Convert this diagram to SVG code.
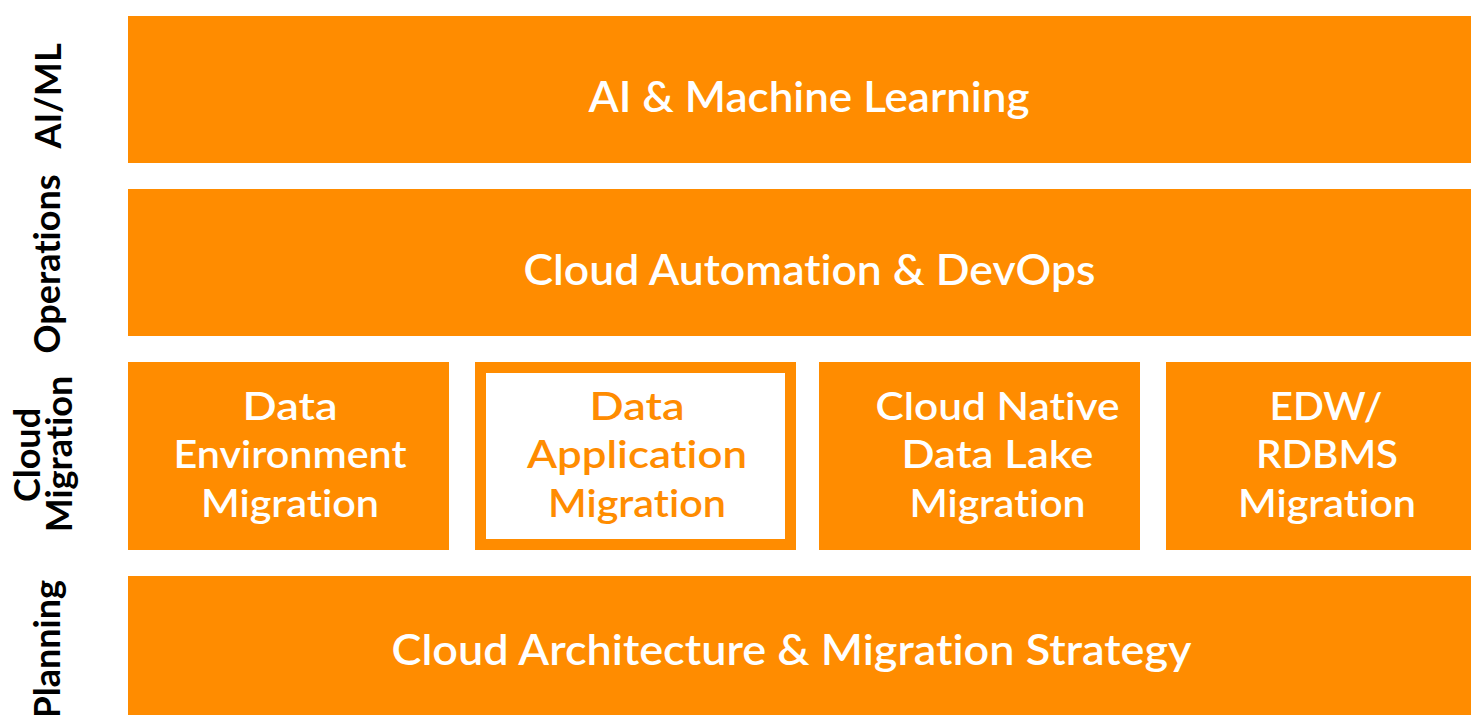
<svg xmlns="http://www.w3.org/2000/svg" width="1471" height="715" viewBox="0 0 1471 715">
<style>
.box{fill:#FF8C00}
.hl{fill:#FFFFFF;stroke:#FF8C00;stroke-width:11}
.t{font-family:Lato,"Noto Sans","Liberation Sans",sans-serif;font-weight:600;fill:#FFFFFF;text-anchor:middle;font-variant-ligatures:none}
.big{font-size:42px}
.mid{font-size:38px}
.o{fill:#FF8C00}
.lab{font-family:Lato,"Noto Sans","Liberation Sans",sans-serif;font-weight:700;font-size:36px;fill:#000000;text-anchor:middle;font-variant-ligatures:none}
</style>
<rect width="1471" height="715" fill="#FFFFFF"/>
<g id="labels">
<text class="lab" transform="translate(61,96) rotate(-90)">AI/ML</text>
<text class="lab" transform="translate(60,264) rotate(-90)">Operations</text>
<text class="lab" transform="translate(40,455) rotate(-90)">Cloud</text>
<text class="lab" transform="translate(72,454) rotate(-90)">Migration</text>
<text class="lab" style="text-anchor:end" transform="translate(60,580) rotate(-90)">Planning</text>
</g>
<g id="ai-ml">
<rect class="box" x="128" y="16" width="1343" height="147"/>
<text class="t big" x="809" y="112" textLength="441" lengthAdjust="spacingAndGlyphs">AI &amp; Machine Learning</text>
</g>
<g id="devops">
<rect class="box" x="128" y="189" width="1343" height="147"/>
<text class="t big" x="809.5" y="285" textLength="572" lengthAdjust="spacingAndGlyphs">Cloud Automation &amp; DevOps</text>
</g>
<g id="data-env">
<rect class="box" x="128" y="362" width="321" height="188"/>
<text class="t mid" x="290" y="420" textLength="95" lengthAdjust="spacingAndGlyphs">Data</text>
<text class="t mid" x="290" y="468" textLength="233" lengthAdjust="spacingAndGlyphs">Environment</text>
<text class="t mid" x="290" y="517" textLength="178" lengthAdjust="spacingAndGlyphs">Migration</text>
</g>
<g id="data-app">
<rect class="hl" x="480.5" y="367.5" width="310" height="177"/>
<text class="t mid o" x="637" y="420" textLength="95" lengthAdjust="spacingAndGlyphs">Data</text>
<text class="t mid o" x="637" y="468" textLength="220" lengthAdjust="spacingAndGlyphs">Application</text>
<text class="t mid o" x="637" y="517" textLength="178" lengthAdjust="spacingAndGlyphs">Migration</text>
</g>
<g id="data-lake">
<rect class="box" x="819" y="362" width="321" height="188"/>
<text class="t mid" x="997.5" y="420" textLength="244" lengthAdjust="spacingAndGlyphs">Cloud Native</text>
<text class="t mid" x="997.5" y="468" textLength="192" lengthAdjust="spacingAndGlyphs">Data Lake</text>
<text class="t mid" x="997.5" y="517" textLength="176" lengthAdjust="spacingAndGlyphs">Migration</text>
</g>
<g id="edw">
<rect class="box" x="1166" y="362" width="305" height="188"/>
<text class="t mid" x="1326" y="420" textLength="113" lengthAdjust="spacingAndGlyphs">EDW/</text>
<text class="t mid" x="1327" y="468" textLength="142" lengthAdjust="spacingAndGlyphs">RDBMS</text>
<text class="t mid" x="1327" y="517" textLength="178" lengthAdjust="spacingAndGlyphs">Migration</text>
</g>
<g id="planning">
<rect class="box" x="128" y="576" width="1343" height="139"/>
<text class="t big" x="791.5" y="665" textLength="800" lengthAdjust="spacingAndGlyphs">Cloud Architecture &amp; Migration Strategy</text>
</g>
<g id="connectors"></g>
</svg>
